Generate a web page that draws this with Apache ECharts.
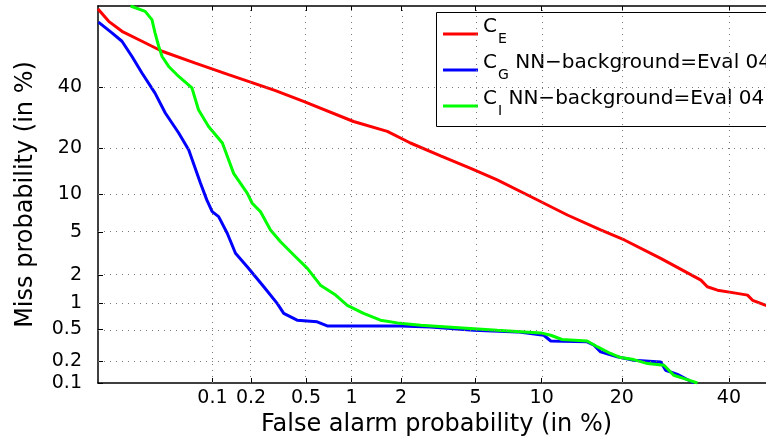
<!DOCTYPE html>
<html>
<head>
<meta charset="utf-8">
<script src="https://cdn.jsdelivr.net/npm/echarts@6/dist/echarts.min.js"></script>
<style>
html, body { margin: 0; padding: 0; background: #fff; }
#chart { width: 766px; height: 442px; }
</style>
</head>
<body>
<div id="chart"></div>
<script>
// DET curves, every point is [false alarm %, miss %]
const curveE = [
  [0.01, 69.0], [0.0126, 64.7], [0.0167, 61.1], [0.0253, 57.4], [0.038, 53.6],
  [0.0726, 49.1], [0.134, 44.7], [0.30, 38.8], [0.48, 34.8], [1.03, 28.0],
  [1.66, 24.9], [2.26, 21.5], [3.31, 18.1], [4.73, 15.1], [6.35, 12.65],
  [9.28, 9.36], [12.7, 6.95], [16.9, 5.23], [20.4, 4.28], [26.5, 2.90],
  [34.2, 1.77], [35.5, 1.51], [37.6, 1.39], [41.1, 1.30], [44.0, 1.23],
  [45.1, 1.08], [48.0, 0.95], [50, 0.9]
]
const curveG = [
  [0.0101, 64.4], [0.0135, 60.5], [0.0167, 57.4], [0.0206, 51.6], [0.0253, 45.3],
  [0.033, 37.8], [0.0405, 30.8], [0.0527, 24.4], [0.064, 19.6], [0.080, 12.0],
  [0.090, 9.1], [0.0995, 7.4], [0.112, 6.75], [0.131, 4.9], [0.152, 3.24],
  [0.187, 2.41], [0.249, 1.51], [0.312, 1.0], [0.348, 0.77], [0.433, 0.642],
  [0.595, 0.614], [0.695, 0.55], [1.98, 0.55], [2.92, 0.535], [4.9, 0.488],
  [7.84, 0.466], [10.2, 0.424], [10.9, 0.36], [15.1, 0.351], [16.0, 0.319],
  [16.9, 0.262], [19.3, 0.226], [21.9, 0.204], [26.5, 0.194], [27.4, 0.15],
  [29.6, 0.132], [32.8, 0.1]
]
const curveI = [
  [0.020, 70], [0.027, 68.2], [0.031, 65.3], [0.033, 60.5], [0.0355, 55.5],
  [0.038, 51.6], [0.0433, 47.8], [0.0527, 44.0], [0.068, 39.7], [0.077, 31.9],
  [0.093, 26.4], [0.12, 21.5], [0.147, 14.0], [0.187, 10.2], [0.204, 8.58],
  [0.235, 7.4], [0.279, 5.23], [0.33, 4.13], [0.41, 3.12], [0.51, 2.32],
  [0.626, 1.57], [0.79, 1.23], [0.94, 0.95], [1.19, 0.77], [1.51, 0.642],
  [1.9, 0.597], [2.58, 0.56], [3.59, 0.535], [6.35, 0.488], [9.9, 0.453],
  [10.9, 0.424], [12.1, 0.376], [15.1, 0.36], [16.5, 0.303], [18.3, 0.25],
  [19.8, 0.221], [21.9, 0.208], [24.2, 0.184], [27.1, 0.175], [28.9, 0.128],
  [30.9, 0.115], [33.5, 0.1]
]
const xTicks = [0.1, 0.2, 0.5, 1, 2, 5, 10, 20, 40]
const xTickLabels = ['0.1', '0.2', '0.5', '1', '2', '5', '10', '20', '40']
const yTicks = [0.1, 0.2, 0.5, 1, 2, 5, 10, 20, 40]
const yTickLabels = ['0.1', '0.2', '0.5', '1', '2', '5', '10', '20', '40']
const xRange = [0.01, 50]
const yRange = [0.1, 70]
const seriesNames = ['CE', 'CG', 'CI']
const legendSubs = ['E', 'G', 'I']
const legendRest = ['', ' NN\u2212background=Eval 04', ' NN\u2212background=Eval 04']
const colors = ['#ff0000', '#0000ff', '#00ff00']

// inverse normal cdf (Acklam), DET axes are in normal deviates
function probit(p) {
  const a = [-3.969683028665376e+01, 2.209460984245205e+02, -2.759285104469687e+02, 1.383577518672690e+02, -3.066479806614716e+01, 2.506628277459239e+00]
  const b = [-5.447609879822406e+01, 1.615858368580409e+02, -1.556989798598866e+02, 6.680131188771972e+01, -1.328068155288572e+01]
  const c = [-7.784894002430293e-03, -3.223964580411365e-01, -2.400758277161838e+00, -2.549732539343734e+00, 4.374664141464968e+00, 2.938163982698783e+00]
  const d = [7.784695709041462e-03, 3.224671290700398e-01, 2.445134137142996e+00, 3.754408661907416e+00]
  const plow = 0.02425
  let q, r
  if (p < plow) {
    q = Math.sqrt(-2 * Math.log(p))
    return (((((c[0] * q + c[1]) * q + c[2]) * q + c[3]) * q + c[4]) * q + c[5]) / ((((d[0] * q + d[1]) * q + d[2]) * q + d[3]) * q + 1)
  }
  if (p <= 1 - plow) {
    q = p - 0.5
    r = q * q
    return (((((a[0] * r + a[1]) * r + a[2]) * r + a[3]) * r + a[4]) * r + a[5]) * q / (((((b[0] * r + b[1]) * r + b[2]) * r + b[3]) * r + b[4]) * r + 1)
  }
  q = Math.sqrt(-2 * Math.log(1 - p))
  return -(((((c[0] * q + c[1]) * q + c[2]) * q + c[3]) * q + c[4]) * q + c[5]) / ((((d[0] * q + d[1]) * q + d[2]) * q + d[3]) * q + 1)
}
const dev = (pct) => probit(pct / 100)

const font = "'DejaVu Sans', 'Liberation Sans', Arial, sans-serif"

const labelFor = (ticks, labels) => (v) => {
  const i = ticks.findIndex(t => Math.abs(dev(t) - v) < 1e-6)
  return i >= 0 ? labels[i] : ''
}

const xVals = xTicks.map(dev)
const yVals = yTicks.map(dev)
const yMin = dev(yRange[0])

const baseX = {
  type: 'value',
  min: dev(xRange[0]),
  max: dev(xRange[1]),
  axisLine: { show: true, onZero: false, lineStyle: { color: '#000', width: 1.5 } },
  axisTick: { show: true, inside: true, length: 5, customValues: xVals, lineStyle: { color: '#000' } },
  splitLine: { show: false },
}

const chart = echarts.init(document.getElementById('chart'))

// dotted grid at the probability ticks
const gridSeries = {
  type: 'line',
  data: [],
  z: 1,
  silent: true,
  markLine: {
    silent: true,
    symbol: 'none',
    animation: false,
    label: { show: false },
    emphasis: { disabled: true },
    lineStyle: { color: '#777', width: 1, type: [1, 5] },
    data: xVals.map(v => ({ xAxis: v })).concat(yVals.filter(v => v > yMin + 1e-6).map(v => ({ yAxis: v }))),
  },
}

const option = {
  animation: false,
  backgroundColor: '#fff',
  textStyle: { fontFamily: font },
  grid: { left: 98, top: 6, width: 677, height: 377, outerBoundsMode: 'none' },
  graphic: [{
    type: 'rect',
    z: 3,
    shape: { x: 436.5, y: 12.5, width: 340, height: 114 },
    style: { fill: '#fff', stroke: '#000', lineWidth: 1 },
  }],
  legend: {
    data: seriesNames,
    orient: 'vertical',
    left: 436,
    top: 15,
    padding: [2, 20, 2, 7],
    itemGap: 2,
    itemWidth: 35,
    itemHeight: 3,
    icon: 'rect',
    selectedMode: false,
    z: 4,
    formatter: (name) => {
      const i = seriesNames.indexOf(name)
      let s = '{c|C}{sub|' + legendSubs[i] + '}'
      if (legendRest[i]) s += '{c|' + legendRest[i] + '}'
      return s
    },
    textStyle: {
      fontFamily: font,
      color: '#000',
      padding: [0, 0, 14, 0],
      rich: {
        c: { fontFamily: font, fontSize: 20, lineHeight: 20, verticalAlign: 'top', color: '#000' },
        sub: { fontFamily: font, fontSize: 14, lineHeight: 14, verticalAlign: 'top', padding: [15, 0, 5, 1], color: '#000' },
      },
    },
  },
  xAxis: [
    Object.assign({}, baseX, {
      position: 'bottom',
      name: 'False alarm probability (in %)',
      nameLocation: 'middle',
      nameGap: 27,
      nameTextStyle: { fontFamily: font, fontSize: 24, color: '#000' },
      axisLabel: { show: true, customValues: xVals, margin: 6, fontSize: 19, color: '#000', fontFamily: font, formatter: labelFor(xTicks, xTickLabels) },
    }),
    Object.assign({}, baseX, {
      position: 'top',
      axisLabel: { show: false },
    }),
  ],
  yAxis: {
    type: 'value',
    min: yMin,
    max: dev(yRange[1]),
    name: 'Miss probability (in %)',
    nameLocation: 'middle',
    nameGap: 60,
    nameTextStyle: { fontFamily: font, fontSize: 24, color: '#000' },
    axisLine: { show: true, onZero: false, lineStyle: { color: '#000', width: 1.5 } },
    axisTick: { show: true, inside: true, length: 5, customValues: yVals, lineStyle: { color: '#000' } },
    axisLabel: { show: true, customValues: yVals, margin: 16, fontSize: 19, color: '#000', fontFamily: font, formatter: labelFor(yTicks, yTickLabels) },
    splitLine: { show: false },
  },
  series: [gridSeries].concat([curveE, curveG, curveI].map((curve, i) => ({
    name: seriesNames[i],
    type: 'line',
    data: curve.map(([fa, miss]) => [dev(fa), dev(miss)]),
    showSymbol: false,
    symbol: 'none',
    clip: true,
    z: 2,
    color: colors[i],
    lineStyle: { color: colors[i], width: 3 },
  }))),
}

chart.setOption(option)
</script>
</body>
</html>
